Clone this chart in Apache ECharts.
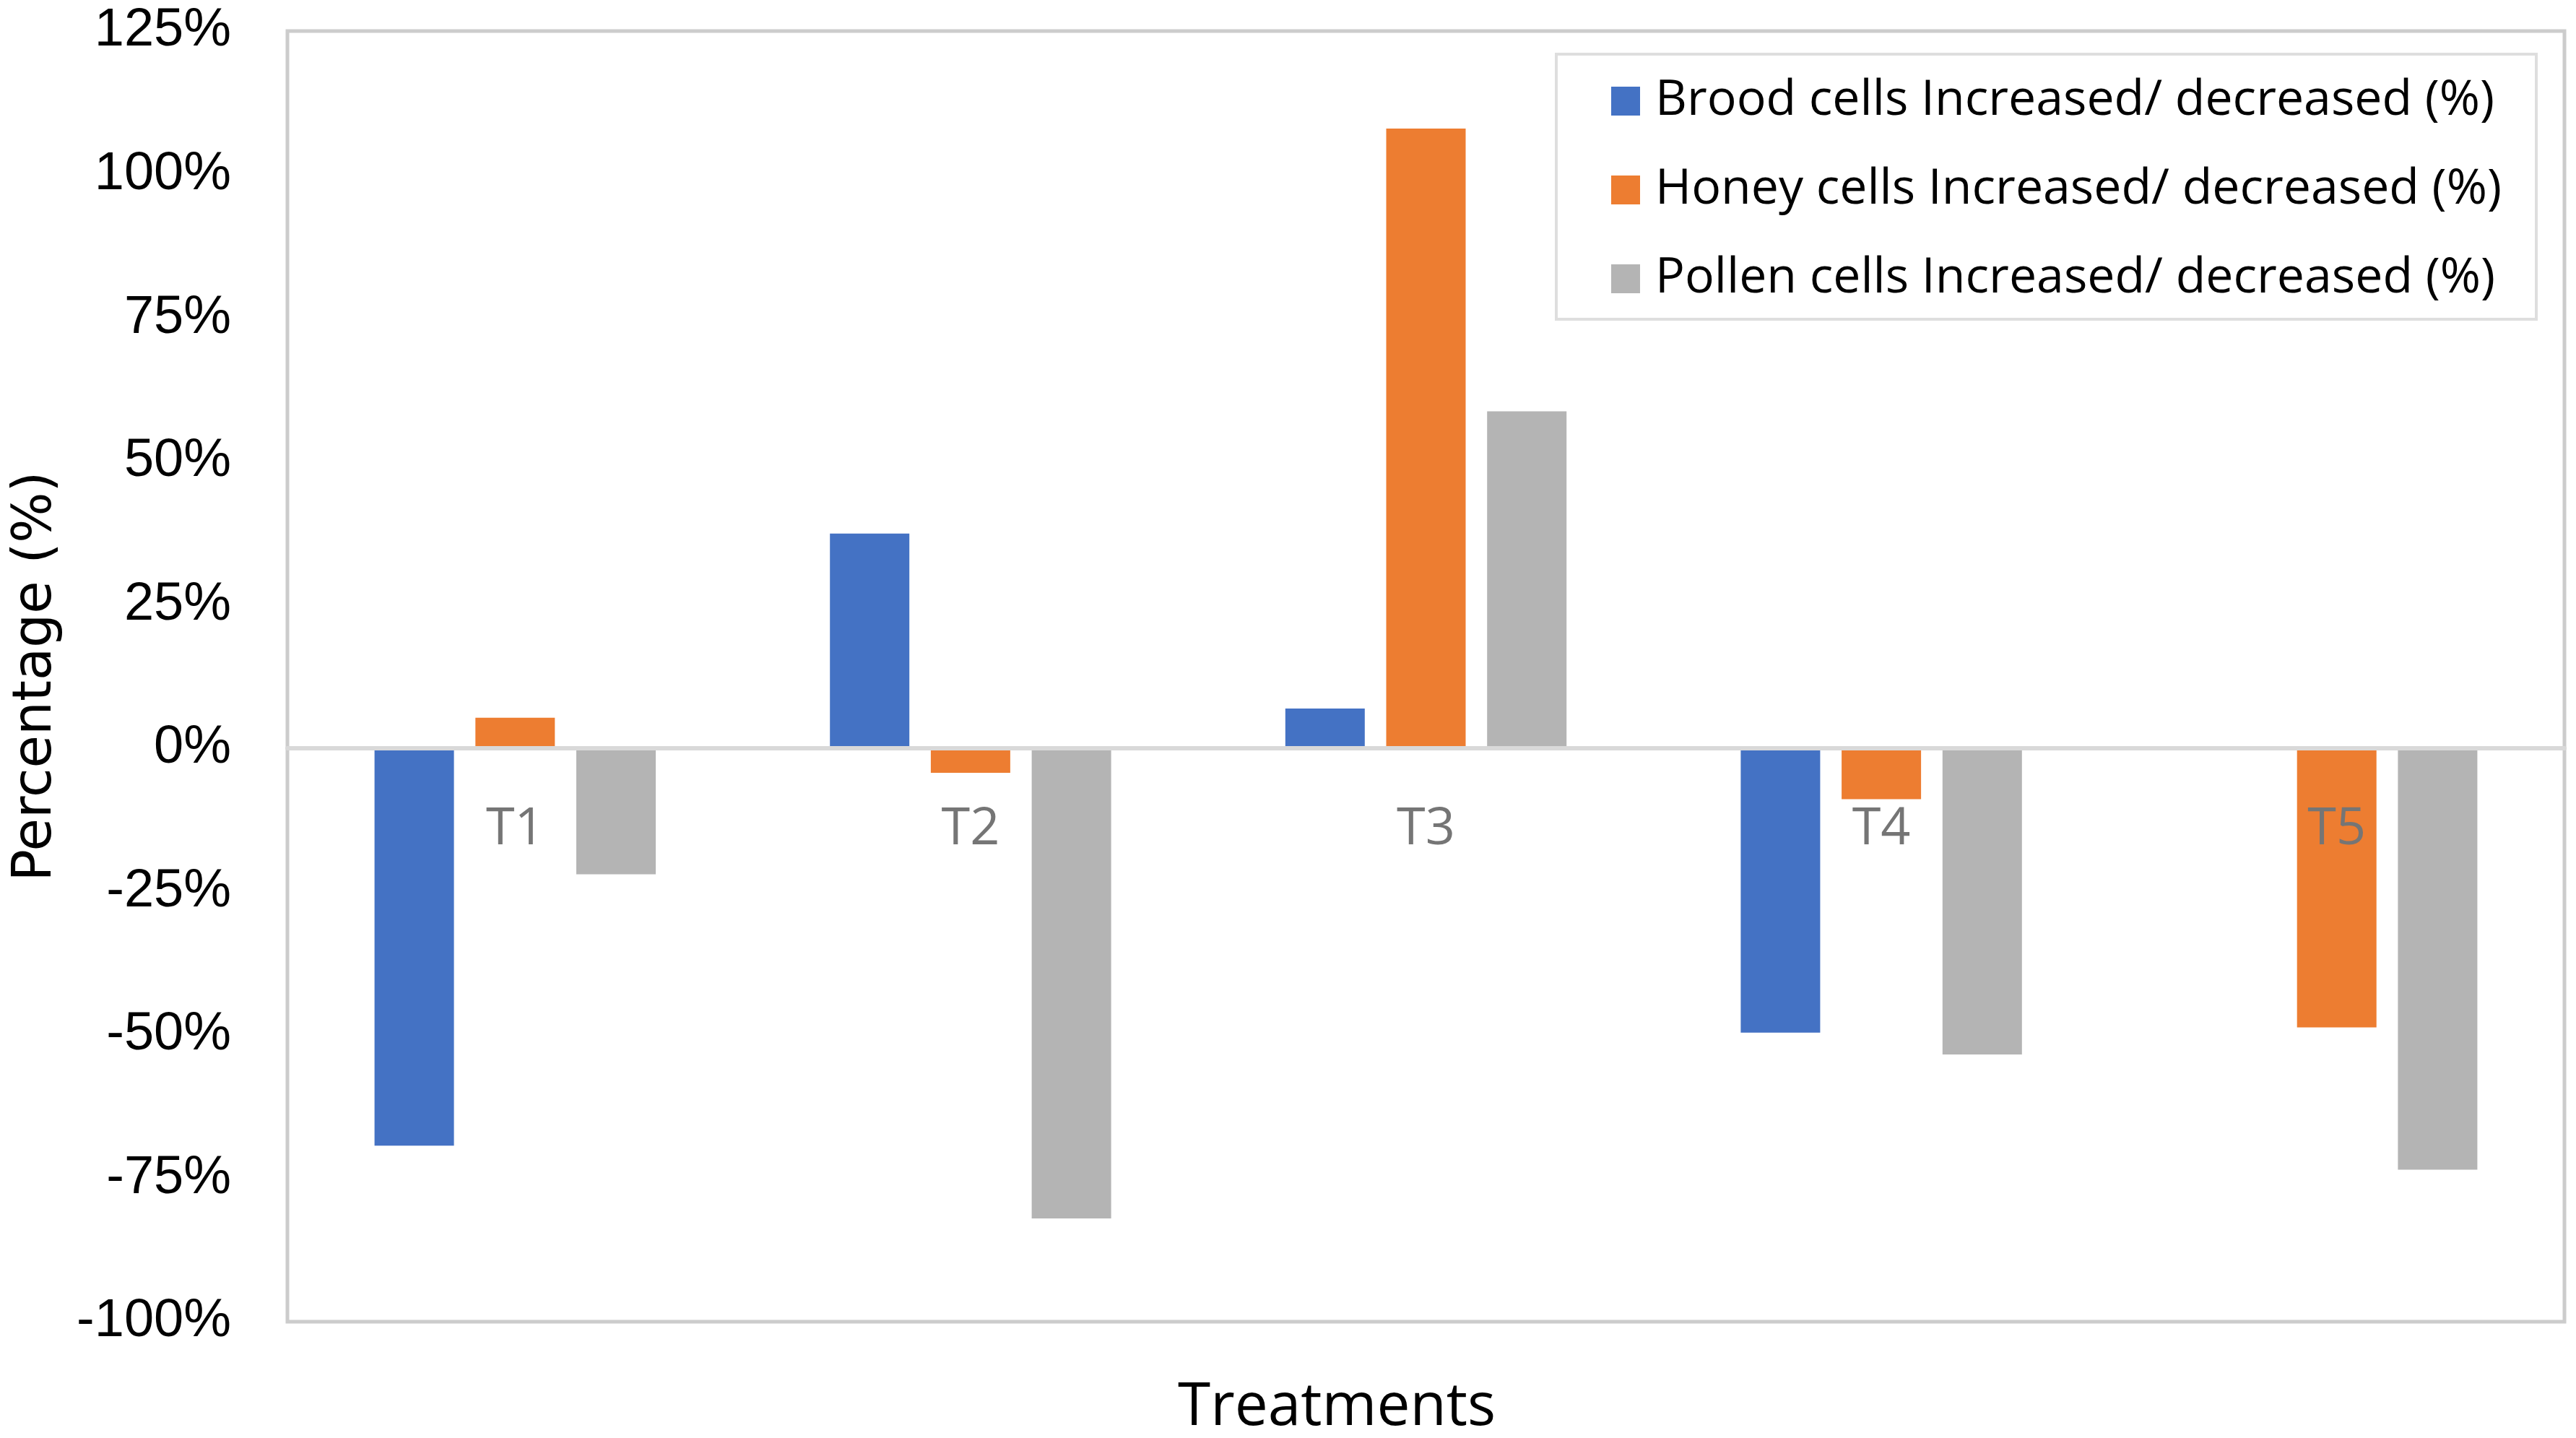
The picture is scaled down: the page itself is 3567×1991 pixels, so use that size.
<!DOCTYPE html>
<html lang="en">
    <head>
        <meta http-equiv="Content-Type" content="text/html; charset=utf-8" />
        <title>Brood, honey and pollen cells by treatment</title>
        <style>
            * {
                margin: 0;
                padding: 0;
                box-sizing: border-box;
            }
            html,
            body {
                width: 100%;
                height: 100%;
                background: #fff;
            }
            #chart {
                width: 3567px;
                height: 1991px;
            }
        </style>
    </head>
    <body>
        <div id="chart"></div>
        <script src="https://cdn.jsdelivr.net/npm/echarts@6/dist/echarts.min.js"></script>
        <script>
            // data (percent)
            const treatments = ['T1', 'T2', 'T3', 'T4', 'T5']
            const brood = [-69.3, 37.4, 6.9, -49.6, -0.3]
            const honey = [5.3, -4.3, 108.0, -8.9, -48.7]
            const pollen = [-22.0, -82.0, 58.7, -53.4, -73.5]
            const seriesNames = [
                'Brood cells Increased/ decreased (%)',
                'Honey cells Increased/ decreased (%)',
                'Pollen cells Increased/ decreased (%)',
            ]
            const seriesColors = ['#4472C4', '#ED7D31', '#B4B4B4']
            const yMin = -100
            const yMax = 125
            const yStep = 25

            const gridTop = 43
            const gridHeight = 1787
            // echarts keeps category labels at the grid edge even with onZero,
            // so pull them back up to sit just under the zero line like Excel does
            const zeroFromBottom = (gridHeight * (0 - yMin)) / (yMax - yMin)
            const labelMargin = 77 - zeroFromBottom

            const chart = echarts.init(document.getElementById('chart'))

            const makeBar = (i, values) => ({
                name: seriesNames[i],
                type: 'bar',
                data: values,
                barWidth: 110,
                barGap: '27%',
                itemStyle: { color: seriesColors[i] },
            })

            chart.setOption({
                animation: false,
                backgroundColor: '#fff',
                grid: {
                    left: 398,
                    top: gridTop,
                    width: 3153,
                    height: gridHeight,
                    show: true,
                    borderColor: '#cccccc',
                    borderWidth: 5,
                    backgroundColor: 'transparent',
                },
                legend: {
                    orient: 'vertical',
                    left: 2231,
                    top: 106,
                    padding: 0,
                    icon: 'rect',
                    itemWidth: 40,
                    itemHeight: 40,
                    itemGap: 55,
                    textStyle: {
                        fontFamily: 'Open Sans',
                        fontSize: 68,
                        lineHeight: 64,
                        color: '#000',
                        padding: [0, 0, 0, 16],
                    },
                    data: seriesNames,
                },
                xAxis: {
                    type: 'category',
                    data: treatments,
                    z: 10,
                    axisLine: {
                        onZero: true,
                        lineStyle: { color: '#d9d9d9', width: 6 },
                    },
                    axisTick: { show: false },
                    axisLabel: {
                        color: '#757575',
                        fontFamily: 'Open Sans',
                        fontSize: 72,
                        margin: labelMargin,
                    },
                },
                yAxis: {
                    type: 'value',
                    min: yMin,
                    max: yMax,
                    interval: yStep,
                    axisLine: { show: false },
                    axisTick: { show: false },
                    splitLine: { show: false },
                    axisLabel: {
                        formatter: '{value}%',
                        color: '#000',
                        fontFamily: 'Liberation Sans',
                        fontSize: 74,
                        margin: 78,
                    },
                    name: 'Percentage (%)',
                    nameLocation: 'middle',
                    nameGap: 310,
                    nameTextStyle: {
                        color: '#000',
                        fontFamily: 'DejaVu Sans',
                        fontSize: 74,
                    },
                },
                graphic: [
                    {
                        type: 'rect',
                        shape: { x: 2155, y: 75, width: 1357, height: 367 },
                        style: { fill: 'none', stroke: '#dedede', lineWidth: 4 },
                        z: 0,
                    },
                    {
                        type: 'text',
                        x: 1851,
                        y: 1950,
                        style: {
                            text: 'Treatments',
                            fill: '#000',
                            fontFamily: 'Open Sans',
                            fontSize: 82,
                            align: 'center',
                            verticalAlign: 'middle',
                        },
                    },
                ],
                series: [makeBar(0, brood), makeBar(1, honey), makeBar(2, pollen)],
            })
        </script>
    </body>
</html>
